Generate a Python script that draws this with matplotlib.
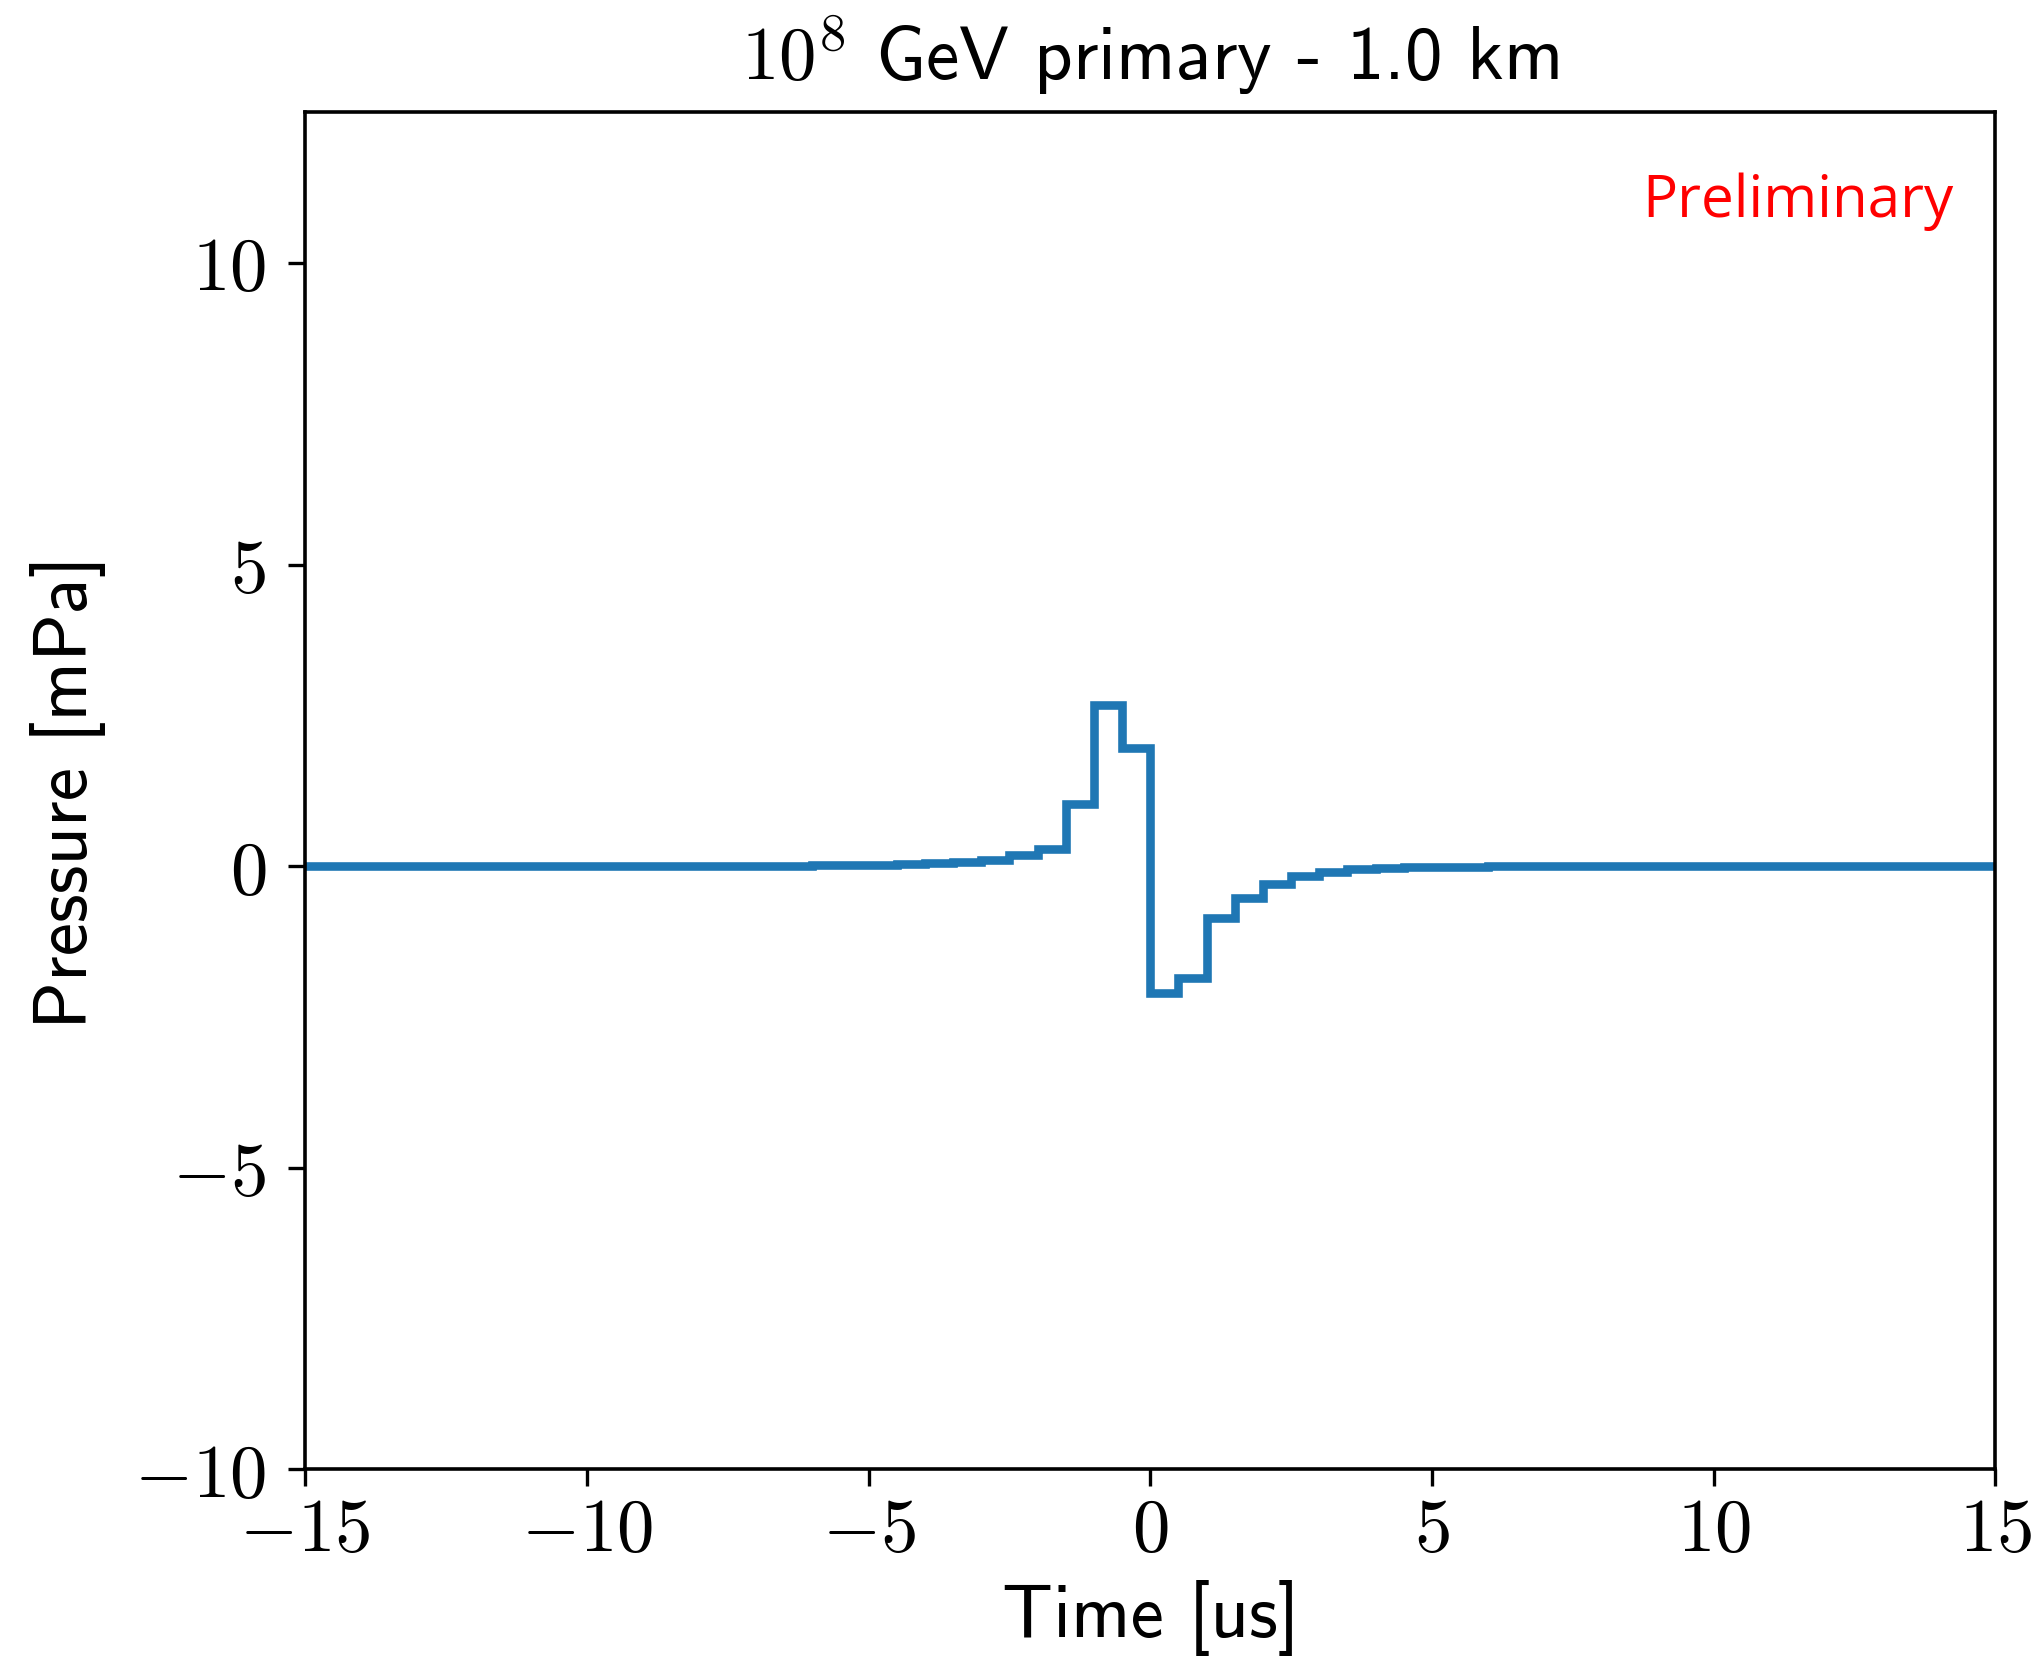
import numpy as np
import matplotlib
matplotlib.use("Agg")
import matplotlib.pyplot as plt
from matplotlib.ticker import FuncFormatter

# Binned pressure pulse (0.5 us bins from -15 to 15 us), in mPa
bin_edges = np.linspace(-15.0, 15.0, 61)
pressure = [
    0.0, 0.0, 0.0, 0.0, 0.0, 0.0, 0.0, 0.0, 0.0, 0.0,
    0.0, 0.0, 0.0, 0.0, 0.0, 0.0, 0.0, 0.0, 0.01, 0.01,
    0.02, 0.03, 0.045, 0.07, 0.10, 0.18, 0.28, 1.03, 2.67, 1.96,
    -2.10, -1.85, -0.86, -0.53, -0.29, -0.17, -0.10, -0.05, -0.03, -0.02,
    -0.01, -0.01, 0.0, 0.0, 0.0, 0.0, 0.0, 0.0, 0.0, 0.0,
    0.0, 0.0, 0.0, 0.0, 0.0, 0.0, 0.0, 0.0, 0.0, 0.0,
]
x_ticks = [-15, -10, -5, 0, 5, 10, 15]
y_ticks = [-10, -5, 0, 5, 10]

plt.rcParams["mathtext.fontset"] = "cm"
plt.rcParams["font.family"] = ["cmss10", "DejaVu Sans"]
plt.rcParams["axes.unicode_minus"] = True

fig = plt.figure(figsize=(10.17, 8.325), dpi=200)
ax = fig.add_axes([0.150, 0.117, 0.831, 0.815])

ax.stairs(pressure, bin_edges, color="#1f77b4", linewidth=3.1)

ax.set_xlim(-15, 15)
ax.set_ylim(-10, 12.5)
ax.set_xticks(x_ticks)
ax.set_yticks(y_ticks)
fmt = FuncFormatter(lambda v, pos: r"$%d$" % v)
ax.xaxis.set_major_formatter(fmt)
ax.yaxis.set_major_formatter(fmt)
ax.tick_params(axis="both", labelsize=27, length=6, width=1.2, direction="out")
ax.tick_params(axis="x", pad=4)
ax.tick_params(axis="y", pad=8)
for s in ax.spines.values():
    s.set_linewidth(1.3)

ax.set_xlabel("Time [us]", fontsize=27, labelpad=5)
ax.set_ylabel("Pressure [mPa]", fontsize=27, labelpad=10)
ax.set_title(r"$10^8$ GeV primary - 1.0 km", fontsize=27, pad=12)

ax.text(0.975, 0.935, "Preliminary", transform=ax.transAxes, color="red",
        fontsize=21, family=["Open Sans", "DejaVu Sans"], ha="right", va="center")

fig.savefig("out.png", dpi=200)
